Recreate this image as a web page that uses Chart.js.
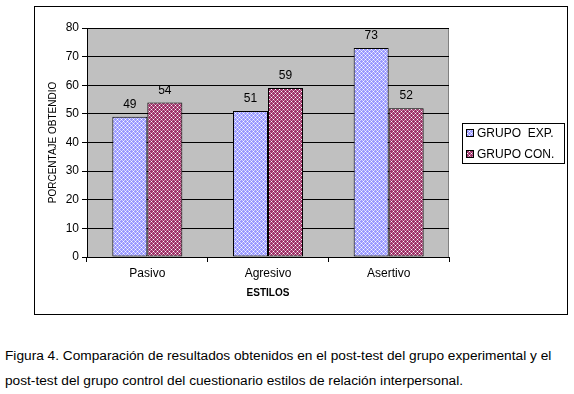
<!DOCTYPE html>
<html>
<head>
<meta charset="utf-8">
<script src="https://cdn.jsdelivr.net/npm/chart.js@4"></script>
<style>
	body { margin: 0; background: #fff; font-family: Arial, "Liberation Sans", sans-serif; }
	#frame { position: absolute; left: 34px; top: 6px; width: 532px; height: 307px; border: 1px solid #000; }
	#caption { position: absolute; left: 5px; top: 343px; font-size: 13.7px; line-height: 25px; color: #000; }
</style>
</head>
<body>
<div id="frame"><canvas id="myChart" width="532" height="307"></canvas></div>
<div id="caption">Figura 4. Comparación de resultados obtenidos en el post-test del grupo experimental y el<br>post-test del grupo control del cuestionario estilos de relación interpersonal.</div>
<script>
"use strict";

// data
var categories = ['Pasivo', 'Agresivo', 'Asertivo'];
var grupoExp = [49, 51, 73];
var grupoCon = [54, 59, 52];
var seriesNames = ['GRUPO  EXP.', 'GRUPO CON.'];
var yTicks = [0, 10, 20, 30, 40, 50, 60, 70, 80];

var FONT = 'Arial, "Liberation Sans", sans-serif';

// small dotted fills like the old excel patterns
function makePattern(dark, light) {
	var c = document.createElement('canvas');
	c.width = 4; c.height = 4;
	var g = c.getContext('2d');
	g.fillStyle = dark;
	g.fillRect(0, 0, 4, 4);
	g.fillStyle = light;
	g.fillRect(1, 1, 1, 1);
	g.fillRect(3, 3, 1, 1);
	g.fillRect(1, 3, 1, 1);
	g.fillRect(3, 1, 1, 1);
	g.fillStyle = '#ffffff';
	g.fillRect(0, 2, 1, 1);
	g.fillRect(2, 0, 1, 1);
	return g.createPattern(c, 'repeat');
}

var blueFill = makePattern('#9999ff', '#d0d0ff');
var redFill = makePattern('#993366', '#d27fa8');
var legendSwatch = [blueFill, redFill];

var plotBg = {
	id: 'plotBg',
	beforeDraw: function(chart) {
		var a = chart.chartArea, ctx = chart.ctx;
		ctx.save();
		ctx.fillStyle = '#c0c0c0';
		ctx.fillRect(a.left, a.top, a.right - a.left, a.bottom - a.top);
		ctx.strokeStyle = '#808080';
		ctx.lineWidth = 1;
		ctx.beginPath();
		ctx.moveTo(a.right - 0.5, a.top);
		ctx.lineTo(a.right - 0.5, a.bottom);
		ctx.stroke();
		ctx.restore();
	}
};

var valueLabels = {
	id: 'valueLabels',
	afterDatasetsDraw: function(chart) {
		var ctx = chart.ctx;
		ctx.save();
		ctx.font = '12px ' + FONT;
		ctx.fillStyle = '#000';
		ctx.textAlign = 'center';
		ctx.textBaseline = 'middle';
		chart.data.datasets.forEach(function(ds, i) {
			chart.getDatasetMeta(i).data.forEach(function(bar, j) {
				ctx.fillText(ds.data[j], bar.x, bar.y - 12);
			});
		});
		ctx.restore();
	}
};

// boxed legend to the right of the plot
var boxLegend = {
	id: 'boxLegend',
	afterDraw: function(chart) {
		var a = chart.chartArea, ctx = chart.ctx;
		var w = 102, h = 40;
		var x = a.right + 13;
		var y = Math.round((a.top + a.bottom) / 2 - h / 2);
		ctx.save();
		ctx.fillStyle = '#fff';
		ctx.fillRect(x, y, w, h);
		ctx.strokeStyle = '#000';
		ctx.lineWidth = 1;
		ctx.strokeRect(x + 0.5, y + 0.5, w, h);
		ctx.font = '12px ' + FONT;
		ctx.textBaseline = 'middle';
		ctx.textAlign = 'left';
		chart.data.datasets.forEach(function(ds, i) {
			var cy = y + 10 + i * 21;
			ctx.fillStyle = legendSwatch[i];
			ctx.fillRect(x + 4, cy - 3, 7, 7);
			ctx.strokeStyle = '#000';
			ctx.strokeRect(x + 4.5, cy - 3.5, 7, 7);
			ctx.fillStyle = '#000';
			ctx.fillText(ds.label, x + 15, cy + 1);
		});
		ctx.restore();
	}
};

new Chart(document.getElementById('myChart'), {
	type: 'bar',
	data: {
		labels: categories,
		datasets: [{
			label: seriesNames[0],
			data: grupoExp,
			backgroundColor: blueFill,
			borderColor: '#000',
			borderWidth: 1,
			borderSkipped: false
		}, {
			label: seriesNames[1],
			data: grupoCon,
			backgroundColor: redFill,
			borderColor: '#000',
			borderWidth: 1,
			borderSkipped: false
		}]
	},
	options: {
		responsive: false,
		animation: false,
		events: [],
		layout: { padding: { left: 0, top: 21, right: 118, bottom: 0 } },
		datasets: { bar: { barPercentage: 1, categoryPercentage: 0.58 } },
		plugins: {
			legend: { display: false },
			tooltip: { enabled: false }
		},
		scales: {
			x: {
				grid: { offset: true, drawOnChartArea: false, drawTicks: true, tickLength: 5, color: '#000' },
				border: { color: '#000' },
				ticks: { color: '#000', font: { family: FONT, size: 12 }, padding: 4 },
				title: { display: true, text: 'ESTILOS', color: '#000', font: { family: FONT, size: 10, weight: 'bold' }, padding: { top: 0, bottom: 15 } },
				afterFit: function(s) { s.height = 57; }
			},
			y: {
				min: 0,
				max: 80,
				afterBuildTicks: function(s) { s.ticks = yTicks.map(function(v) { return { value: v }; }); },
				grid: { color: '#000', tickLength: 5 },
				border: { color: '#000' },
				ticks: { color: '#000', font: { family: FONT, size: 12 }, padding: 3 },
				title: { display: true, text: 'PORCENTAJE OBTENDIO', color: '#000', font: { family: FONT, size: 10 }, padding: { top: 12, bottom: 0 } },
				afterFit: function(s) { s.width = 52; }
			}
		}
	},
	plugins: [plotBg, valueLabels, boxLegend]
});
</script>
</body>
</html>
